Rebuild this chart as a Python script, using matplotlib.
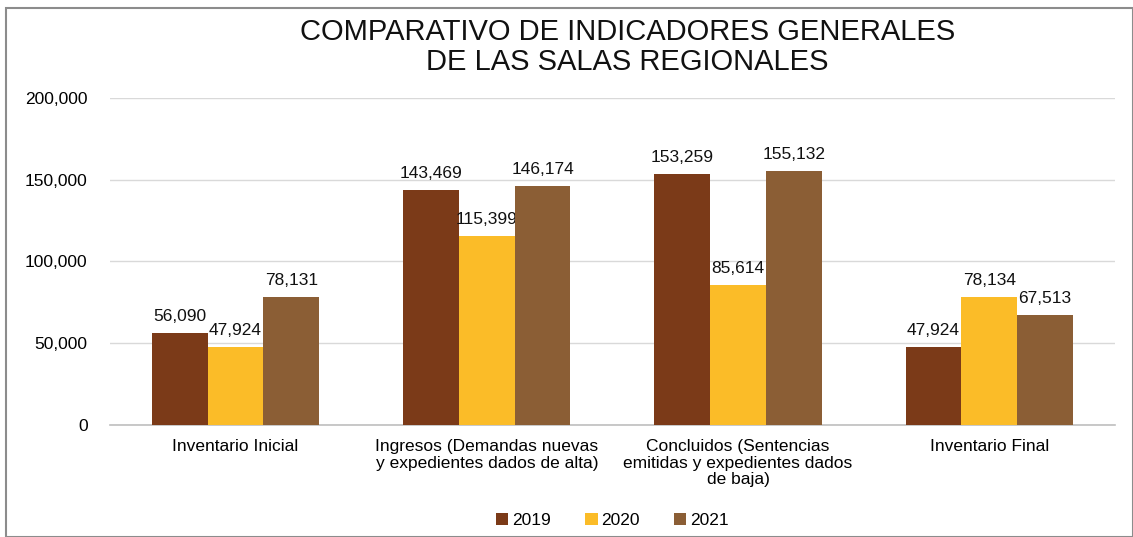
import matplotlib
matplotlib.use("Agg")
import matplotlib.pyplot as plt
import numpy as np
from matplotlib.patches import Rectangle

categories = ["Inventario Inicial",
              "Ingresos (Demandas nuevas\ny expedientes dados de alta)",
              "Concluidos (Sentencias\nemitidas y expedientes dados\nde baja)",
              "Inventario Final"]
years = ["2019", "2020", "2021"]
v2019 = [56090, 143469, 153259, 47924]
v2020 = [47924, 115399, 85614, 78134]
v2021 = [78131, 146174, 155132, 67513]
series = [v2019, v2020, v2021]
colors = ["#7b3a18", "#fbbc28", "#8b5e35"]
yticks = [0, 50000, 100000, 150000, 200000]

plt.rcParams['font.family'] = ['Liberation Sans', 'DejaVu Sans']

fig = plt.figure(figsize=(11.33, 5.37), dpi=100)
ax = fig.add_axes([0.097, 0.2086, 0.887, 0.609])

x = np.arange(len(categories))
w = 0.222
for i, (vals, c, yr) in enumerate(zip(series, colors, years)):
    pos = x + (i - 1) * w
    ax.bar(pos, vals, w, color=c, label=yr, zorder=3)
    for p, v in zip(pos, vals):
        ax.text(p, v + 5500, f"{v:,}", ha="center", va="bottom", fontsize=12.5, color="#111111")

ax.set_xlim(-0.5, 3.5)
ax.set_ylim(0, 200000)
ax.set_yticks(yticks)
ax.set_yticklabels([f"{t:,}" for t in yticks], fontsize=12.5)
ax.set_xticks(x)
ax.set_xticklabels(categories, fontsize=12.5, va="top", linespacing=1.15)
ax.tick_params(axis="both", length=0, pad=10)
ax.tick_params(axis="y", pad=16)
ax.grid(axis="y", color="#d9d9d9", linewidth=1, zorder=0)
for s in ["top", "right", "left"]:
    ax.spines[s].set_visible(False)
ax.spines["bottom"].set_color("#bfbfbf")
ax.spines["bottom"].set_linewidth(1.2)

fig.text(0.554, 0.912, "COMPARATIVO DE INDICADORES GENERALES\nDE LAS SALAS REGIONALES",
         ha="center", va="center", fontsize=21, linespacing=1.1, color="#111111")

ax.legend(loc="center", bbox_to_anchor=(0.5, -0.293), ncol=3, frameon=False, fontsize=12.5,
          handlelength=0.7, handleheight=0.7, handletextpad=0.2, columnspacing=2.0)

fig.patches.append(Rectangle((6/1133, 0), 1 - 6/1133, 1 - 8/537, transform=fig.transFigure,
                             fill=False, edgecolor="#8c8c8c", linewidth=1.5))

fig.savefig("out.png", dpi=100)
